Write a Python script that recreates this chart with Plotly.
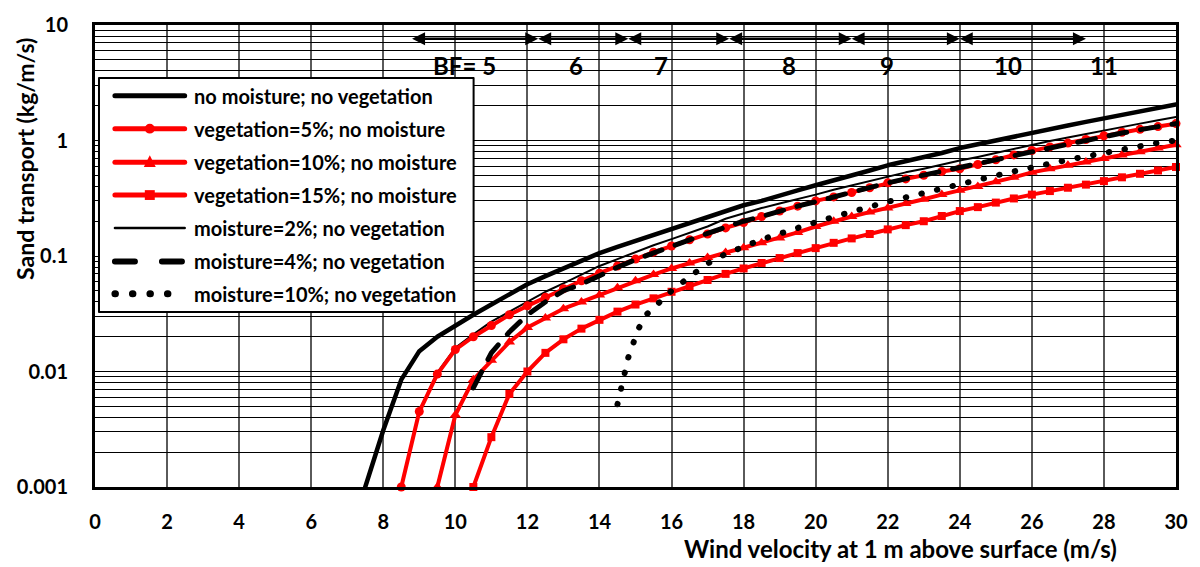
import plotly.graph_objects as go

# ---------------- data ----------------
VEL = [7.5, 8.0, 8.5, 9.0, 9.5, 10.0, 10.5, 11.0, 11.5, 12.0, 12.5, 13.0, 13.5, 14.0,
       14.5, 15.0, 15.5, 16.0, 16.5, 17.0, 17.5, 18.0, 18.5, 19.0, 19.5, 20.0, 20.5,
       21.0, 21.5, 22.0, 22.5, 23.0, 23.5, 24.0, 24.5, 25.0, 25.5, 26.0, 26.5, 27.0,
       27.5, 28.0, 28.5, 29.0, 29.5, 30.0]

NO_MOIST_NO_VEG = [0.001, 0.0031, 0.0085, 0.015, 0.020, 0.025, 0.031, 0.038, 0.047, 0.057,
                   0.067, 0.078, 0.092, 0.106, 0.12, 0.135, 0.152, 0.172, 0.195, 0.22,
                   0.245, 0.275, 0.30, 0.33, 0.37, 0.41, 0.45, 0.50, 0.55, 0.61, 0.66,
                   0.72, 0.78, 0.86, 0.93, 1.0, 1.08, 1.17, 1.26, 1.35, 1.45, 1.55, 1.66,
                   1.78, 1.92, 2.05]
VEG_5 = [0.001, 0.0045, 0.0095, 0.0155, 0.020, 0.025, 0.031, 0.037, 0.044, 0.052, 0.061,
         0.071, 0.082, 0.094, 0.108, 0.122, 0.138, 0.155, 0.175, 0.195, 0.22, 0.245, 0.27,
         0.30, 0.325, 0.355, 0.39, 0.43, 0.465, 0.50, 0.54, 0.57, 0.62, 0.68, 0.75, 0.82,
         0.88, 0.95, 1.02, 1.10, 1.18, 1.25, 1.32, 1.40]
VEG_10 = [0.001, 0.0042, 0.0085, 0.0125, 0.018, 0.024, 0.029, 0.035, 0.040, 0.046, 0.053,
          0.061, 0.069, 0.078, 0.087, 0.097, 0.107, 0.118, 0.13, 0.143, 0.16, 0.18, 0.20,
          0.22, 0.24, 0.26, 0.285, 0.31, 0.34, 0.37, 0.40, 0.44, 0.48, 0.53, 0.57, 0.61,
          0.65, 0.70, 0.75, 0.80, 0.86, 0.92]
VEG_15 = [0.001, 0.0027, 0.0064, 0.010, 0.0145, 0.019, 0.0235, 0.028, 0.033, 0.038, 0.043,
          0.049, 0.055, 0.062, 0.070, 0.078, 0.087, 0.096, 0.106, 0.117, 0.13, 0.142, 0.155,
          0.17, 0.185, 0.20, 0.222, 0.245, 0.265, 0.29, 0.315, 0.34, 0.365, 0.39, 0.415,
          0.445, 0.48, 0.515, 0.55, 0.59]
MOIST_2 = [0.0045, 0.0098, 0.016, 0.021, 0.027, 0.033, 0.040, 0.049, 0.058, 0.069, 0.082,
           0.094, 0.108, 0.124, 0.14, 0.16, 0.18, 0.21, 0.235, 0.26, 0.285, 0.31, 0.34,
           0.375, 0.41, 0.45, 0.49, 0.53, 0.57, 0.62, 0.67, 0.72, 0.78, 0.85, 0.92, 0.99,
           1.06, 1.14, 1.22, 1.31, 1.40, 1.50, 1.60]
MOIST_4 = [0.0072, 0.0145, 0.022, 0.031, 0.040, 0.050, 0.057, 0.068, 0.080, 0.093, 0.107,
           0.122, 0.138, 0.157, 0.178, 0.20, 0.22, 0.245, 0.27, 0.295, 0.325, 0.355, 0.39,
           0.43, 0.465, 0.50, 0.54, 0.58, 0.63, 0.68, 0.74, 0.80, 0.87, 0.93, 1.0, 1.08,
           1.16, 1.24, 1.32, 1.40]
MOIST_10_X = [14.5, 14.6, 14.7, 14.8, 14.95, 15.1, 15.3, 15.65, 16.0, 16.5, 17.0, 17.5,
              18.0, 18.5, 19.0, 19.5, 20.0, 20.5, 21.0, 21.5, 22.0, 22.5, 23.0, 23.5, 24.0,
              24.5, 25.0, 25.5, 26.0, 26.5, 27.0, 27.5, 28.0, 28.5, 29.0, 29.5, 30.0]
MOIST_10 = [0.0052, 0.0072, 0.0098, 0.0132, 0.018, 0.024, 0.031, 0.039, 0.050, 0.066,
            0.086, 0.104, 0.121, 0.139, 0.156, 0.177, 0.196, 0.218, 0.243, 0.267, 0.295,
            0.322, 0.353, 0.381, 0.42, 0.455, 0.497, 0.54, 0.59, 0.63, 0.68, 0.73, 0.78,
            0.845, 0.90, 0.955, 1.0]

NAMES = ["no moisture; no vegetation", "vegetation=5%; no moisture",
         "vegetation=10%; no moisture", "vegetation=15%; no moisture",
         "moisture=2%; no vegetation", "moisture=4%; no vegetation",
         "moisture=10%; no vegetation"]

X_TICKS = [0, 2, 4, 6, 8, 10, 12, 14, 16, 18, 20, 22, 24, 26, 28, 30]
Y_DECADES = [0.001, 0.01, 0.1, 1, 10]
Y_DECADE_LABELS = ["0.001", "0.01", "0.1", "1", "10"]
Y_MULT = [1, 2, 3, 4, 5, 6, 7, 8, 9]

BF_BOUNDS = [8.8, 12.3, 14.8, 17.6, 21.0, 24.0, 27.5]
BF_LABELS = ["BF= 5", "6", "7", "8", "9", "10", "11"]
BF_LABEL_X = [10.25, 13.35, 15.7, 19.25, 21.98, 25.35, 28.0]

# ---------------- layout geometry ----------------
W, H = 1200, 567
ML, MR, MT, MB = 95, 20, 17, 80
PW, PH = W - ML - MR, H - MT - MB


def px_x(p):
    return (p - ML) / PW


def px_y(p):
    return (H - MB - p) / PH


FONT = "Lato"
RED = "#FF0000"


def xs_for(ys):
    return VEL[len(VEL) - len(ys):]


fig = go.Figure()

traces = [
    (NO_MOIST_NO_VEG, dict(color="black", width=4.5), None, "solid"),
    (MOIST_2, dict(color="black", width=2), None, "solid"),
    (VEG_5, dict(color=RED, width=4), dict(symbol="circle", size=9, color=RED), "solid"),
    (VEG_10, dict(color=RED, width=4), dict(symbol="triangle-up", size=10, color=RED), "solid"),
    (VEG_15, dict(color=RED, width=4), dict(symbol="square", size=8, color=RED), "solid"),
    (MOIST_4, dict(color="black", width=5), None, "18px,14px"),
]
for ys, line, marker, dash in traces:
    line = dict(line, dash=dash)
    fig.add_trace(go.Scatter(
        x=xs_for(ys), y=ys, mode="lines+markers" if marker else "lines",
        line=line, marker=marker, showlegend=False, cliponaxis=False,
        hoverinfo="skip"))

fig.add_trace(go.Scatter(
    x=MOIST_10_X, y=MOIST_10, mode="lines",
    line=dict(color="black", width=6, dash="0.5px,15.5px"),
    showlegend=False, cliponaxis=False, hoverinfo="skip"))

# ---------------- shapes: legend box, BF arrows ----------------
shapes = []
annotations = []

# legend
shapes.append(dict(type="rect", xref="paper", yref="paper",
                   x0=px_x(99), x1=px_x(475), y0=px_y(309), y1=px_y(71),
                   line=dict(color="black", width=2), fillcolor="white", layer="above"))
rows = [89, 122.5, 156.5, 190, 223.5, 257.5, 290.5]
styles = [
    dict(color="black", width=5, dash="solid", mk=None),
    dict(color=RED, width=5, dash="solid", mk="circle"),
    dict(color=RED, width=5, dash="solid", mk="triangle"),
    dict(color=RED, width=5, dash="solid", mk="square"),
    dict(color="black", width=2.5, dash="solid", mk=None),
    dict(color="black", width=6, dash="20px,27px", mk=None),
    dict(color="black", width=7, dash="0.5px,17px", mk=None),
]
L0, L1, LM = 115, 185, 150
for r, st, name in zip(rows, styles, NAMES):
    yy = px_y(r)
    shapes.append(dict(type="line", xref="paper", yref="paper",
                       x0=px_x(L0), x1=px_x(L1), y0=yy, y1=yy,
                       line=dict(color=st["color"], width=st["width"], dash=st["dash"]),
                       layer="above"))
    if st["mk"] == "circle":
        shapes.append(dict(type="circle", xref="paper", yref="paper",
                           x0=px_x(LM - 5), x1=px_x(LM + 5), y0=px_y(r + 5), y1=px_y(r - 5),
                           fillcolor=RED, line=dict(width=0), layer="above"))
    elif st["mk"] == "square":
        shapes.append(dict(type="rect", xref="paper", yref="paper",
                           x0=px_x(LM - 5), x1=px_x(LM + 5), y0=px_y(r + 5), y1=px_y(r - 5),
                           fillcolor=RED, line=dict(width=0), layer="above"))
    elif st["mk"] == "triangle":
        shapes.append(dict(type="path", xref="paper", yref="paper",
                           path="M %f,%f L %f,%f L %f,%f Z" % (
                               px_x(LM - 6), px_y(r + 5), px_x(LM + 6), px_y(r + 5),
                               px_x(LM), px_y(r - 7)),
                           fillcolor=RED, line=dict(width=0), layer="above"))
    annotations.append(dict(xref="paper", yref="paper", x=px_x(192), y=yy,
                            xanchor="left", yanchor="middle", showarrow=False, text=name,
                            font=dict(family=FONT, size=20, color="black", weight="bold")))

# BF arrows
ARROW_Y = px_y(31)
HL = 13 / (PW / 30.0)   # arrowhead length in data units
HH = 6.5 / PH           # arrowhead half height in paper units
for a, b in zip(BF_BOUNDS[:-1], BF_BOUNDS[1:]):
    shapes.append(dict(type="line", xref="x", yref="paper", x0=a + HL * 0.8, x1=b - HL * 0.8,
                       y0=ARROW_Y, y1=ARROW_Y, line=dict(color="black", width=2.5)))
    shapes.append(dict(type="path", xref="x", yref="paper",
                       path="M %f,%f L %f,%f L %f,%f Z" % (a, ARROW_Y, a + HL, ARROW_Y + HH,
                                                            a + HL, ARROW_Y - HH),
                       fillcolor="black", line=dict(width=0)))
    shapes.append(dict(type="path", xref="x", yref="paper",
                       path="M %f,%f L %f,%f L %f,%f Z" % (b, ARROW_Y, b - HL, ARROW_Y + HH,
                                                            b - HL, ARROW_Y - HH),
                       fillcolor="black", line=dict(width=0)))
for lx, lt in zip(BF_LABEL_X, BF_LABELS):
    annotations.append(dict(xref="x", yref="paper", x=lx, y=px_y(58), text=lt,
                            showarrow=False, xanchor="center", yanchor="middle",
                            font=dict(family=FONT, size=24, color="black", weight="bold")))

# axis titles
annotations.append(dict(xref="paper", yref="paper", x=px_x(24), y=px_y(153),
                        text="Sand transport (kg/m/s)", textangle=-90, showarrow=False,
                        xanchor="center", yanchor="middle",
                        font=dict(family=FONT, size=23, color="black", weight="bold")))
annotations.append(dict(xref="paper", yref="paper", x=px_x(903), y=px_y(550),
                        text="Wind velocity at 1 m above surface (m/s)", showarrow=False,
                        xanchor="center", yanchor="middle",
                        font=dict(family=FONT, size=24, color="black", weight="bold")))

y_tickvals, y_ticktext = [], []
for d, lab in zip(Y_DECADES, Y_DECADE_LABELS):
    for m in Y_MULT:
        v = d * m
        if v > 10:
            break
        y_tickvals.append(v)
        y_ticktext.append(lab if m == 1 else "")

fig.update_layout(
    width=W, height=H,
    margin=dict(l=ML, r=MR, t=MT, b=MB, pad=0),
    paper_bgcolor="white", plot_bgcolor="white",
    showlegend=False,
    shapes=shapes, annotations=annotations,
    xaxis=dict(range=[0, 30], tickvals=X_TICKS, showgrid=True, gridcolor="#5a5a5a",
               gridwidth=1.5, zeroline=False, showline=True, linecolor="black",
               linewidth=3, mirror=True, ticks="", ticklabelstandoff=15,
               tickfont=dict(family=FONT, size=20, color="black", weight="bold")),
    yaxis=dict(type="log", range=[-3, 1], tickvals=y_tickvals, ticktext=y_ticktext,
               showgrid=True, gridcolor="black", gridwidth=1, zeroline=False,
               showline=True, linecolor="black", linewidth=3, mirror=True, ticks="",
               ticklabelstandoff=20,
               tickfont=dict(family=FONT, size=20, color="black", weight="bold")),
)

post = """
document.querySelectorAll('.scatterlayer path.js-line, .shapelayer path').forEach(function(p){
  p.style.strokeLinecap = 'round';
  p.style.strokeLinejoin = 'round';
});
"""
fig.write_html("out.html", post_script=post)
